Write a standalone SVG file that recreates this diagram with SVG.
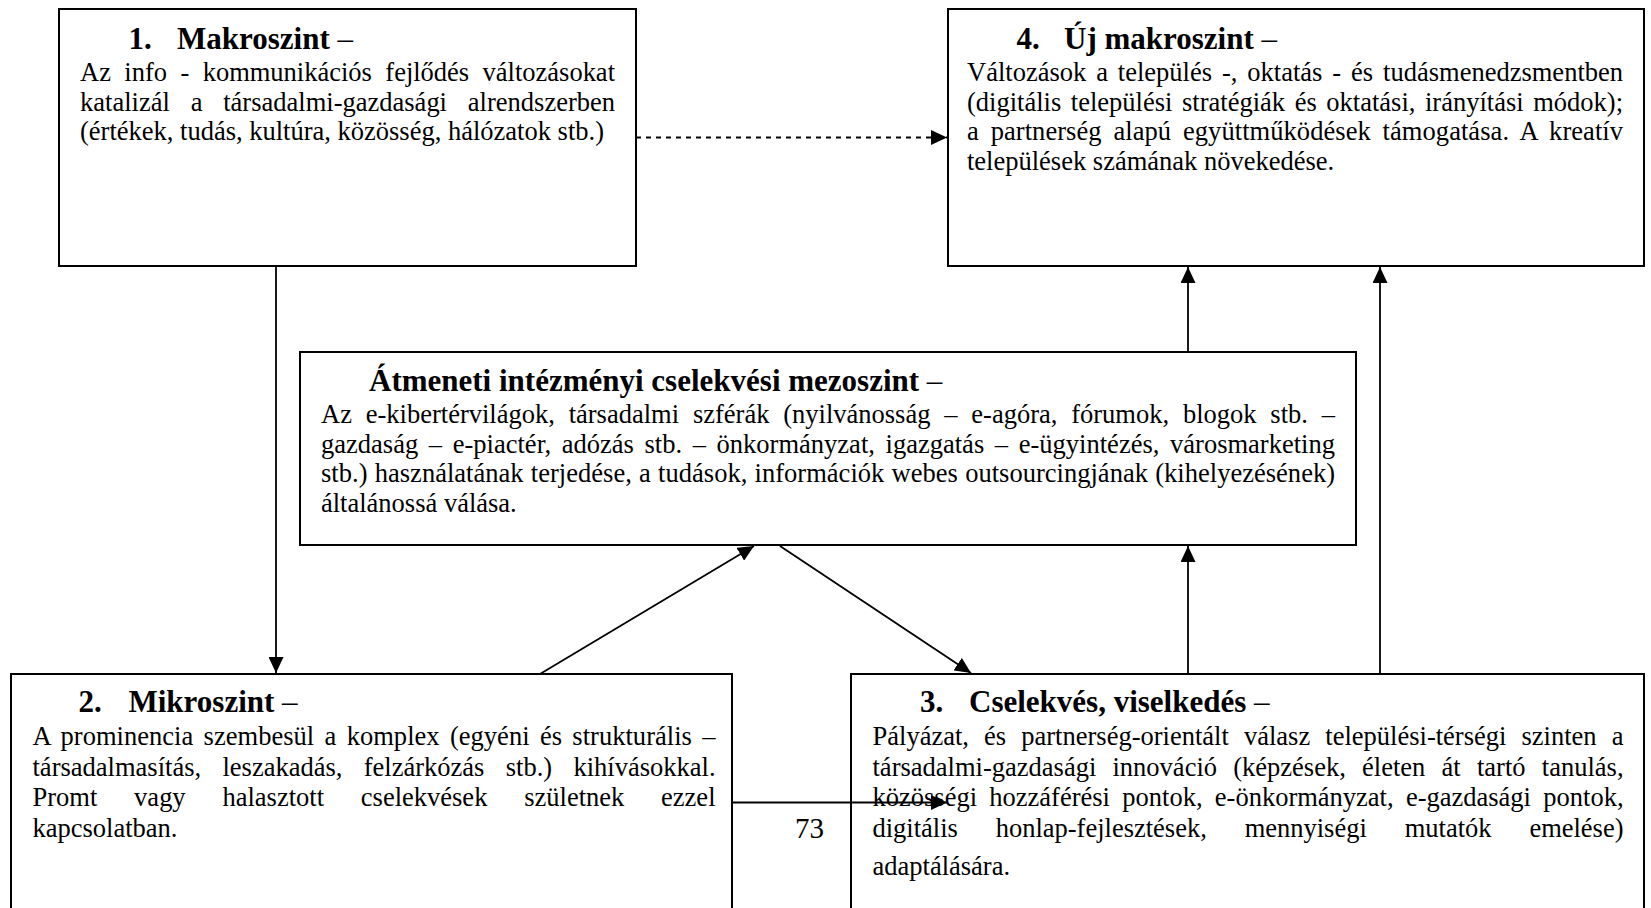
<svg xmlns="http://www.w3.org/2000/svg" width="1651" height="908" viewBox="0 0 1651 908">
<style>
.box{fill:#fff;stroke:#000;stroke-width:2}
.t{font-family:"Liberation Serif","Times New Roman",serif;font-size:26.5px;fill:#000}
.h{font-family:"Liberation Serif","Times New Roman",serif;font-size:31px;font-weight:bold;fill:#000}
.d{font-weight:normal;font-size:31px}
.c{stroke:#000;stroke-width:1.8;fill:none}
.dash{stroke-dasharray:5 5}
</style>
<defs>
<marker id="ah" markerUnits="userSpaceOnUse" markerWidth="16" markerHeight="15" refX="16" refY="7.5" orient="auto">
<path d="M0,0 L16,7.5 L0,15 Z" fill="#000"/>
</marker>
</defs>

<g id="node1">
<rect class="box" x="59" y="9" width="577" height="257"/>
<text class="h" x="128.5" y="48.5">1.</text>
<text class="h" x="177" y="48.5">Makroszint<tspan class="d"> –</tspan></text>
<text class="t" x="80" y="81" word-spacing="6.8" textLength="535" lengthAdjust="spacing">Az info - kommunikációs fejlődés változásokat</text>
<text class="t" x="80" y="110.5" word-spacing="14.2" textLength="535" lengthAdjust="spacing">katalizál a társadalmi-gazdasági alrendszerben</text>
<text class="t" x="80" y="140">(értékek, tudás, kultúra, közösség, hálózatok stb.)</text>
</g>

<g id="node4">
<rect class="box" x="948" y="9" width="696" height="257"/>
<text class="h" x="1016.5" y="48.5">4.</text>
<text class="h" x="1064" y="48.5">Új makroszint<tspan class="d"> –</tspan></text>
<text class="t" x="967" y="81" word-spacing="3.3" textLength="656" lengthAdjust="spacing">Változások a település -, oktatás - és tudásmenedzsmentben</text>
<text class="t" x="967" y="110.5" word-spacing="3" textLength="656" lengthAdjust="spacing">(digitális települési stratégiák és oktatási, irányítási módok);</text>
<text class="t" x="967" y="140" word-spacing="5.2" textLength="656" lengthAdjust="spacing">a partnerség alapú együttműködések támogatása. A kreatív</text>
<text class="t" x="967" y="169.5">települések számának növekedése.</text>
</g>

<g id="nodeMeso">
<rect class="box" x="300" y="352" width="1056" height="193"/>
<text class="h" x="369" y="391">Átmeneti intézményi cselekvési mezoszint<tspan class="d"> –</tspan></text>
<text class="t" x="321" y="423" word-spacing="7.2" textLength="1014" lengthAdjust="spacing">Az e-kibertérvilágok, társadalmi szférák (nyilvánosság – e-agóra, fórumok, blogok stb. –</text>
<text class="t" x="321" y="452.5" word-spacing="4" textLength="1014" lengthAdjust="spacing">gazdaság – e-piactér, adózás stb. – önkormányzat, igazgatás – e-ügyintézés, városmarketing</text>
<text class="t" x="321" y="482" word-spacing="0.6" textLength="1014" lengthAdjust="spacing">stb.) használatának terjedése, a tudások, információk webes outsourcingjának (kihelyezésének)</text>
<text class="t" x="321" y="511.5">általánossá válása.</text>
</g>

<g id="node2">
<path class="box" d="M11,908 V674 H732 V908"/>
<text class="h" x="78.5" y="712">2.</text>
<text class="h" x="128.5" y="712">Mikroszint<tspan class="d"> –</tspan></text>
<text class="t" x="32.5" y="745" word-spacing="3.7" textLength="683" lengthAdjust="spacing">A prominencia szembesül a komplex (egyéni és strukturális –</text>
<text class="t" x="32.5" y="775.5" word-spacing="14.7" textLength="683" lengthAdjust="spacing">társadalmasítás, leszakadás, felzárkózás stb.) kihívásokkal.</text>
<text class="t" x="32.5" y="806" word-spacing="30.2" textLength="683" lengthAdjust="spacing">Promt vagy halasztott cselekvések születnek ezzel</text>
<text class="t" x="32.5" y="836.5">kapcsolatban.</text>
</g>

<g id="node3">
<path class="box" d="M851,908 V674 H1644 V908"/>
<text class="h" x="920" y="712">3.</text>
<text class="h" x="969" y="712">Cselekvés, viselkedés<tspan class="d"> –</tspan></text>
<text class="t" x="872.5" y="745" word-spacing="8.5" textLength="751" lengthAdjust="spacing">Pályázat, és partnerség-orientált válasz települési-térségi szinten a</text>
<text class="t" x="872.5" y="775.5" word-spacing="9.6" textLength="751" lengthAdjust="spacing">társadalmi-gazdasági innováció (képzések, életen át tartó tanulás,</text>
<text class="t" x="872.5" y="806" word-spacing="5.7" textLength="751" lengthAdjust="spacing">közösségi hozzáférési pontok, e-önkormányzat, e-gazdasági pontok,</text>
<text class="t" x="872.5" y="836.5" word-spacing="31.3" textLength="751" lengthAdjust="spacing">digitális honlap-fejlesztések, mennyiségi mutatók emelése)</text>
<text class="t" x="872.5" y="875">adaptálására.</text>
</g>

<text class="t" x="795" y="838" style="font-size:29px">73</text>

<g id="connectors">
<line class="c dash" x1="636" y1="137.5" x2="947" y2="137.5" marker-end="url(#ah)"/>
<line class="c" x1="276" y1="266" x2="276" y2="673" marker-end="url(#ah)"/>
<line class="c" x1="540" y1="674" x2="754" y2="546" marker-end="url(#ah)"/>
<line class="c" x1="780" y1="546" x2="971" y2="673" marker-end="url(#ah)"/>
<line class="c" x1="1188" y1="674" x2="1188" y2="546" marker-end="url(#ah)"/>
<line class="c" x1="1188" y1="352" x2="1188" y2="267" marker-end="url(#ah)"/>
<line class="c" x1="1380" y1="674" x2="1380" y2="267" marker-end="url(#ah)"/>
<line class="c" x1="732" y1="802.5" x2="947" y2="802.5" marker-end="url(#ah)"/>
</g>
</svg>
